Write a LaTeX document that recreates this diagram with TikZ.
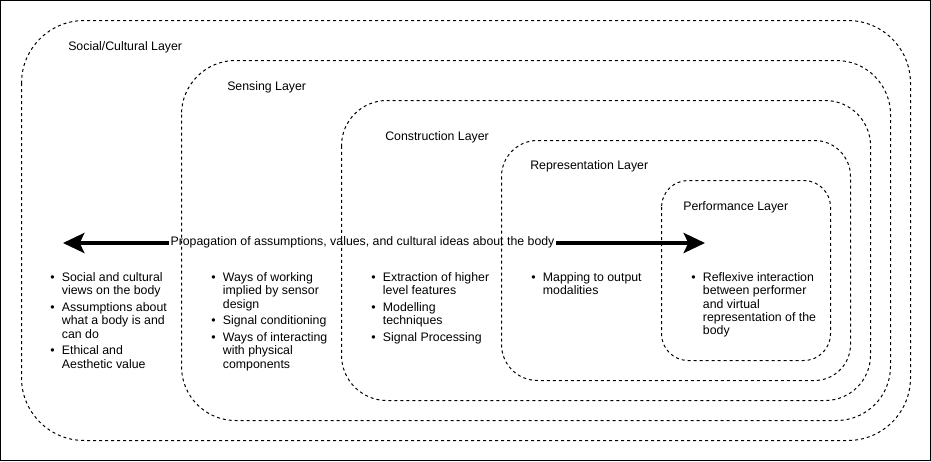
\documentclass[tikz,border=0pt]{standalone}
\usepackage{fontspec}
\setmainfont{Liberation Sans}
\usetikzlibrary{arrows.meta}
\begin{document}
\begin{tikzpicture}[x=0.75pt,y=-0.75pt,
  layerbox/.style={draw=black, line width=0.75pt, dash pattern=on 2.25pt off 2.25pt},
  txt/.style={anchor=base west, inner sep=0pt, font=\fontsize{9.25pt}{10pt}\selectfont},
  bigarrow/.style={line width=3pt, -{Stealth[length=16pt,width=15pt,inset=3.5pt]}}
]
\useasboundingbox (0,0) rectangle (931,461);
\draw[line width=0.75pt] (0.5,0.5) rectangle (930.5,460.5);

% layers
\draw[layerbox, rounded corners=47pt] (21.5,20.5) rectangle (910.5,440.5);
\draw[layerbox, rounded corners=40.5pt] (181.5,60.5) rectangle (890.5,420.5);
\draw[layerbox, rounded corners=34pt] (341.5,100.5) rectangle (870.5,400.5);
\draw[layerbox, rounded corners=27pt] (501.5,140.5) rectangle (850.5,380.5);
\draw[layerbox, rounded corners=20pt] (661.5,180.5) rectangle (830.5,360.5);

% layer labels
\node[txt] (lsocial) at (68,50) {Social/Cultural Layer};
\node[txt] (lsensing) at (227,90) {Sensing Layer};
\node[txt] (lconstr) at (385,140) {Construction Layer};
\node[txt] (lrepr) at (530,169.5) {Representation Layer};
\node[txt] (lperf) at (683,210) {Performance Layer};

% propagation arrow
\node[txt, anchor=base] (prop) at (362.5,245.5) {Propagation of assumptions, values, and cultural ideas about the body};
\coordinate (leftend) at (63,243);
\coordinate (rightend) at (705,243);
\draw[bigarrow] ([xshift=-1pt]prop.west |- leftend) -- (leftend);
\draw[bigarrow] ([xshift=1pt]prop.east |- rightend) -- (rightend);

% bullet lists
\node[txt] (list1) at (50,281.5) {\begin{tabular}[t]{@{}l@{\hspace{5.5pt}}l@{}}
\textbullet & Social and cultural\\
 & views on the body\\[2.5pt]
\textbullet & Assumptions about\\
 & what a body is and\\
 & can do\\[2.5pt]
\textbullet & Ethical and\\
 & Aesthetic value
\end{tabular}};

\node[txt] (list2) at (211,281.5) {\begin{tabular}[t]{@{}l@{\hspace{5.5pt}}l@{}}
\textbullet & Ways of working\\
 & implied by sensor\\
 & design\\[2.5pt]
\textbullet & Signal conditioning\\[2.5pt]
\textbullet & Ways of interacting\\
 & with physical\\
 & components
\end{tabular}};

\node[txt] (list3) at (371,281.5) {\begin{tabular}[t]{@{}l@{\hspace{5.5pt}}l@{}}
\textbullet & Extraction of higher\\
 & level features\\[2.5pt]
\textbullet & Modelling\\
 & techniques\\[2.5pt]
\textbullet & Signal Processing
\end{tabular}};

\node[txt] (list4) at (531,281.5) {\begin{tabular}[t]{@{}l@{\hspace{5.5pt}}l@{}}
\textbullet & Mapping to output\\
 & modalities
\end{tabular}};

\node[txt] (list5) at (691,281.5) {\begin{tabular}[t]{@{}l@{\hspace{5.5pt}}l@{}}
\textbullet & Reflexive interaction\\
 & between performer\\
 & and virtual\\
 & representation of the\\
 & body
\end{tabular}};
\end{tikzpicture}
\end{document}
